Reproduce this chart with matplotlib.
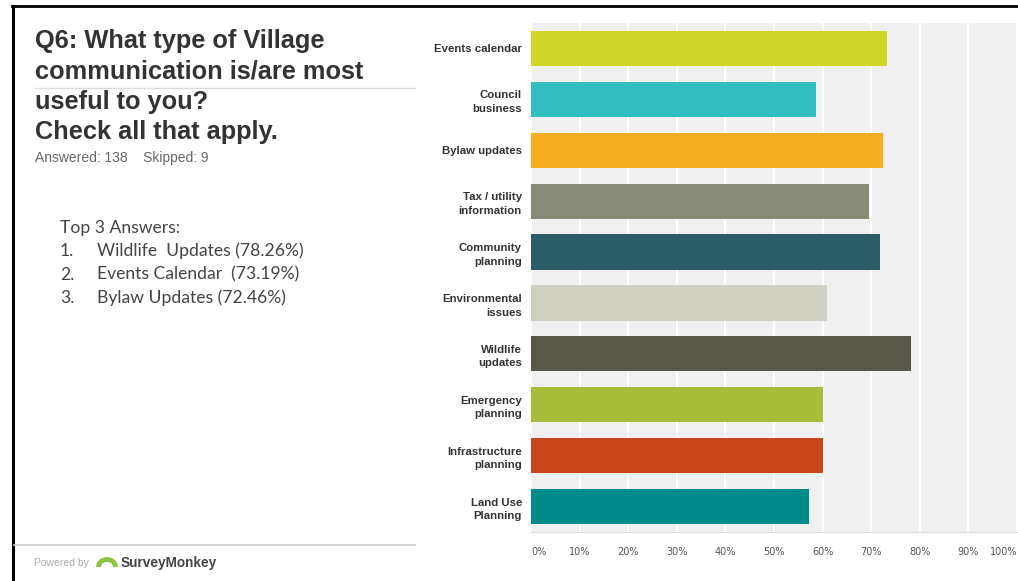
import matplotlib
matplotlib.use('Agg')
import matplotlib.pyplot as plt
from matplotlib.lines import Line2D
from matplotlib.patches import Arc

# survey answers, top to bottom
categories = ['Events calendar', 'Council\nbusiness', 'Bylaw updates',
              'Tax / utility\ninformation', 'Community\nplanning',
              'Environmental\nissues', 'Wildlife\nupdates', 'Emergency\nplanning',
              'Infrastructure\nplanning', 'Land Use\nPlanning']
percentages = [73.19, 58.70, 72.46, 69.57, 71.74, 60.87, 78.26, 60.14, 60.14, 57.25]
bar_colors = ['#cfd628', '#33bfbf', '#f6ae1f', '#888a78', '#2b5c68',
              '#cfcfc2', '#58574a', '#a7bd3a', '#c8441b', '#008b8b']
x_ticks = [0, 10, 20, 30, 40, 50, 60, 70, 80, 90, 100]
x_tick_labels = ['0%', '10%', '20%', '30%', '40%', '50%', '60%', '70%', '80%', '90%', '100%']

title_lines = ['Q6: What type of Village', 'communication is/are most',
               'useful to you?', 'Check all that apply.']
top_answers = [('1.', 'Wildlife  Updates (78.26%)'),
               ('2.', 'Events Calendar  (73.19%)'),
               ('3.', 'Bylaw Updates (72.46%)')]

W, H = 1018, 581
fig = plt.figure(figsize=(W / 100, H / 100), dpi=100)
fig.patch.set_facecolor('white')


def fx(px):
    return px / W


def fy(py):
    return 1 - py / H


# bar chart panel
ax = fig.add_axes([fx(531), fy(532), fx(1017) - fx(531), fy(23) - fy(532)])
ax.set_facecolor('#f0f0f0')
ypos = list(range(len(categories)))
ax.barh(ypos, percentages, height=0.69, color=bar_colors, zorder=3)
ax.set_xlim(0, 100)
ax.set_ylim(len(categories) - 0.5, -0.5)
ax.set_xticks(x_ticks)
ax.set_xticklabels(x_tick_labels)
ax.set_yticks(ypos)
ax.set_yticklabels(categories, fontsize=8.2, fontweight='bold', color='#333333',
                   family='Liberation Sans', linespacing=1.45)
ax.tick_params(axis='y', length=0, pad=6.5)
ax.tick_params(axis='x', length=0, pad=11, labelsize=7, labelcolor='#555555')
xl = ax.get_xticklabels()
xl[0].set_ha('left')
xl[-1].set_ha('right')
ax.grid(axis='x', color='white', linewidth=1.5, zorder=1)
for s in ['top', 'right', 'left']:
    ax.spines[s].set_visible(False)
ax.spines['bottom'].set_color('#dddddd')

# frame lines
fig.add_artist(Line2D([fx(13), fx(13)], [fy(6), 0], color='black', lw=2.2))
fig.add_artist(Line2D([fx(12), 1], [fy(6), fy(6)], color='black', lw=2.0))
fig.add_artist(Line2D([fx(35), fx(415)], [fy(88), fy(88)], color='#dddddd', lw=1.0))
fig.add_artist(Line2D([fx(14), fx(415)], [fy(545), fy(545)], color='#cccccc', lw=1.2))

# title block
for i, line in enumerate(title_lines):
    fig.text(fx(35), fy(41 + i * 30.3), line, fontsize=18.3, fontweight='bold',
             color='#333333', family='Liberation Sans', va='center', ha='left')
fig.text(fx(35), fy(158), 'Answered: 138    Skipped: 9', fontsize=10,
         color='#666666', family='Liberation Sans', va='center')

# top answers
fig.text(fx(60), fy(228), 'Top 3 Answers:', fontsize=12.6, color='#444444',
         family='Lato', va='center')
for i, (num, txt) in enumerate(top_answers):
    yy = fy(251 + i * 23.5)
    fig.text(fx(60), yy, num, fontsize=12.6, color='#444444', family='Lato', va='center')
    fig.text(fx(97), yy, txt, fontsize=12.6, color='#444444', family='Lato', va='center')

# footer
fig.text(fx(34), fy(563), 'Powered by', fontsize=7.5, color='#aaaaaa',
         family='Liberation Sans', va='center')
fig.add_artist(Arc((fx(107), fy(567)), fx(17), 15 / H, theta1=0, theta2=180,
                   color='#8cc63f', lw=3.5, transform=fig.transFigure))
fig.text(fx(121), fy(563), 'SurveyMonkey', fontsize=9.8, fontweight='bold',
         color='#444444', family='Liberation Sans', va='center')

fig.savefig('out.png', dpi=100)
